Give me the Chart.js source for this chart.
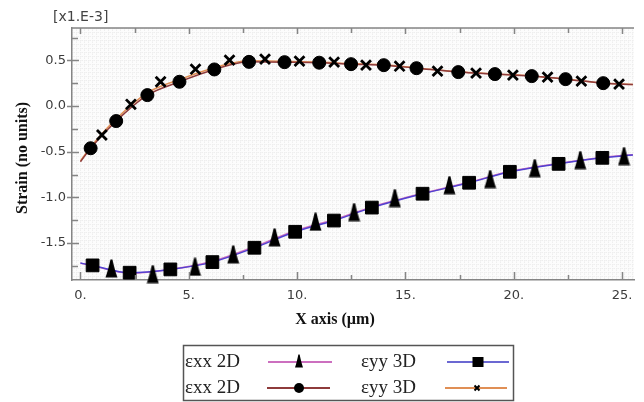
<!DOCTYPE html>
<html>
<head>
<meta charset="utf-8">
<title>Strain along X axis</title>
<script src="https://cdn.jsdelivr.net/npm/chart.js@4.4.1/dist/chart.umd.min.js"></script>
<style>
  html, body { margin: 0; padding: 0; background: #fff; }
  #wrap { width: 644px; height: 402px; }
</style>
</head>
<body>
<div id="wrap"><canvas id="strainChart" width="644" height="402"></canvas></div>
<script>
// x in µm, strain in units of 1.E-3
const xTicks = [0, 5, 10, 15, 20, 25];
const xMinor = [2.5, 7.5, 12.5, 17.5, 22.5];
const yTicks = [-1.5, -1.0, -0.5, 0.0, 0.5];
const yMinor = [-1.75, -1.25, -0.75, -0.25, 0.25, 0.75];

// curves
const upperLineX = [0, 0.47, 1.65, 3.09, 4.57, 6.18, 7.78, 9.42, 11.02, 12.49, 14.0, 15.51, 17.44, 19.13, 20.83, 22.39, 24.13, 25.5];
const exx2dRedY  = [-0.61, -0.462, -0.164, 0.12, 0.266, 0.401, 0.484, 0.481, 0.475, 0.459, 0.448, 0.415, 0.372, 0.35, 0.328, 0.295, 0.251, 0.235];
const eyy3dOrY   = [-0.60, -0.45, -0.14, 0.145, 0.29, 0.42, 0.495, 0.49, 0.482, 0.465, 0.452, 0.418, 0.375, 0.352, 0.33, 0.297, 0.253, 0.237];

const lowerLineX = [0, 0.56, 2.27, 4.15, 6.09, 8.03, 9.91, 11.70, 13.45, 15.79, 17.94, 19.82, 22.07, 24.09, 25.5];
const eyy3dBlueY = [-1.72, -1.745, -1.825, -1.789, -1.709, -1.552, -1.377, -1.254, -1.112, -0.96, -0.84, -0.72, -0.633, -0.567, -0.537];
const exx2dPinkY = [-1.72, -1.75, -1.83, -1.79, -1.70, -1.54, -1.365, -1.245, -1.105, -0.955, -0.835, -0.715, -0.628, -0.563, -0.533];

// markers
const circleX = [0.47, 1.65, 3.09, 4.57, 6.18, 7.78, 9.42, 11.02, 12.49, 14.0, 15.51, 17.44, 19.13, 20.83, 22.39, 24.13];
const circleY = [-0.462, -0.164, 0.12, 0.266, 0.401, 0.484, 0.481, 0.475, 0.459, 0.448, 0.415, 0.372, 0.35, 0.328, 0.295, 0.251];
const crossX = [0.99, 2.33, 3.70, 5.31, 6.88, 8.52, 10.11, 11.71, 13.18, 14.73, 16.48, 18.26, 19.96, 21.56, 23.12, 24.86];
const crossY = [-0.317, 0.019, 0.266, 0.404, 0.503, 0.514, 0.492, 0.481, 0.448, 0.437, 0.383, 0.361, 0.339, 0.317, 0.273, 0.240];
const squareX = [0.56, 2.27, 4.15, 6.09, 8.03, 9.91, 11.70, 13.45, 15.79, 17.94, 19.82, 22.07, 24.09];
const squareY = [-1.745, -1.825, -1.789, -1.709, -1.552, -1.377, -1.254, -1.112, -0.96, -0.84, -0.72, -0.633, -0.567];
const triX = [1.43, 3.34, 5.29, 7.05, 8.96, 10.85, 12.63, 14.51, 17.03, 18.91, 20.97, 23.07, 25.09];
const triY = [-1.778, -1.840, -1.760, -1.624, -1.438, -1.267, -1.161, -1.008, -0.866, -0.800, -0.680, -0.592, -0.548];

const colPink = '#cc6fbf';
const colBlue = '#5140d0';
const colRed = '#8e3b3b';
const colOrange = '#e08f55';

function pts(xs, ys) {
  return xs.map((x, i) => ({x: x, y: ys[i]}));
}

// tall "cone" triangle used by the εxx 2D markers
function triPath(ctx, cx, cy, w, h) {
  ctx.beginPath();
  ctx.moveTo(cx - w * 0.08, cy - h / 2);
  ctx.lineTo(cx + w * 0.08, cy - h / 2);
  ctx.quadraticCurveTo(cx + w * 0.3, cy + h * 0.15, cx + w / 2, cy + h / 2);
  ctx.lineTo(cx - w / 2, cy + h / 2);
  ctx.quadraticCurveTo(cx - w * 0.3, cy + h * 0.15, cx - w * 0.08, cy - h / 2);
  ctx.closePath();
}
const triImg = document.createElement('canvas');
triImg.width = 13;
triImg.height = 19;
(function () {
  const c = triImg.getContext('2d');
  c.fillStyle = '#000';
  triPath(c, 6.5, 9.5, 12, 18);
  c.fill();
})();

// faint dotted mesh behind the plot
const meshTile = document.createElement('canvas');
meshTile.width = 4;
meshTile.height = 4;
(function () {
  const c = meshTile.getContext('2d');
  c.fillStyle = '#fcfcfc';
  c.fillRect(0, 0, 4, 4);
  c.fillStyle = '#eeeeee';
  c.fillRect(0, 0, 1, 1);
  c.fillRect(2, 0, 1, 1);
  c.fillRect(0, 2, 1, 1);
  c.fillStyle = '#f4f4f4';
  c.fillRect(1, 0, 1, 1);
  c.fillRect(0, 1, 1, 1);
})();

const framePlugin = {
  id: 'frame',
  beforeDraw(chart) {
    const {ctx, chartArea: a} = chart;
    ctx.save();
    ctx.fillStyle = ctx.createPattern(meshTile, 'repeat');
    ctx.fillRect(a.left, a.top, a.right - a.left, a.bottom - a.top);
    ctx.restore();
  },
  afterDraw(chart) {
    const {ctx, chartArea: a} = chart;
    const xs = chart.scales.x, ys = chart.scales.y;
    ctx.save();
    ctx.strokeStyle = '#858585';
    ctx.lineWidth = 1.5;

    // top frame line
    ctx.beginPath();
    ctx.moveTo(a.left, a.top);
    ctx.lineTo(a.right, a.top);
    ctx.stroke();

    // inner ticks
    ctx.beginPath();
    xTicks.forEach(v => {
      const px = Math.round(xs.getPixelForValue(v)) + 0.5;
      ctx.moveTo(px, a.bottom); ctx.lineTo(px, a.bottom - 8);
      ctx.moveTo(px, a.top); ctx.lineTo(px, a.top + 6);
    });
    xMinor.forEach(v => {
      const px = Math.round(xs.getPixelForValue(v)) + 0.5;
      ctx.moveTo(px, a.bottom); ctx.lineTo(px, a.bottom - 5);
      ctx.moveTo(px, a.top); ctx.lineTo(px, a.top + 5);
    });
    yTicks.forEach(v => {
      const py = Math.round(ys.getPixelForValue(v)) + 0.5;
      ctx.moveTo(a.left - 5, py); ctx.lineTo(a.left + 7, py);
    });
    yMinor.forEach(v => {
      const py = Math.round(ys.getPixelForValue(v)) + 0.5;
      if (py > a.top + 2) { ctx.moveTo(a.left, py); ctx.lineTo(a.left + 6, py); }
    });
    ctx.stroke();

    // exponent note
    ctx.fillStyle = '#444';
    ctx.font = '14px "DejaVu Sans"';
    ctx.textBaseline = 'middle';
    ctx.textAlign = 'left';
    ctx.fillText('[x1.E-3]', 53, 17);

    // axis titles
    ctx.fillStyle = '#111';
    ctx.font = 'bold 16px "Liberation Serif"';
    ctx.textAlign = 'center';
    ctx.fillText('X axis (µm)', 335, 320);
    ctx.save();
    ctx.translate(23, 158);
    ctx.rotate(-Math.PI / 2);
    ctx.fillText('Strain (no units)', 0, 0);
    ctx.restore();

    // legend
    ctx.strokeStyle = '#555';
    ctx.lineWidth = 1.5;
    ctx.strokeRect(183.5, 345.5, 330, 55);
    ctx.font = '19px "Liberation Serif"';
    ctx.textAlign = 'left';
    const rows = [
      {t: 'εxx 2D', tx: 185, y: 362, c: colPink, x0: 268, x1: 332, m: 'tri', mx: 299},
      {t: 'εyy 3D', tx: 361, y: 362, c: '#6b68d2', x0: 447, x1: 509, m: 'sq', mx: 478},
      {t: 'εxx 2D', tx: 185, y: 388, c: colRed, x0: 267, x1: 330, m: 'dot', mx: 299},
      {t: 'εyy 3D', tx: 361, y: 388, c: colOrange, x0: 445, x1: 507, m: 'x', mx: 477}
    ];
    rows.forEach(r => {
      ctx.fillStyle = '#222';
      ctx.fillText(r.t, r.tx, r.y);
      ctx.strokeStyle = r.c;
      ctx.lineWidth = 2;
      ctx.beginPath();
      ctx.moveTo(r.x0, r.y);
      ctx.lineTo(r.x1, r.y);
      ctx.stroke();
      ctx.fillStyle = '#000';
      ctx.strokeStyle = '#000';
      if (r.m === 'tri') {
        triPath(ctx, r.mx, r.y - 1, 8, 13);
        ctx.fill();
      } else if (r.m === 'sq') {
        ctx.fillRect(r.mx - 5.5, r.y - 5, 11, 10);
      } else if (r.m === 'dot') {
        ctx.beginPath();
        ctx.arc(r.mx, r.y, 5, 0, Math.PI * 2);
        ctx.fill();
      } else {
        ctx.lineWidth = 2;
        ctx.beginPath();
        ctx.moveTo(r.mx - 2.5, r.y - 2.5); ctx.lineTo(r.mx + 2.5, r.y + 2.5);
        ctx.moveTo(r.mx + 2.5, r.y - 2.5); ctx.lineTo(r.mx - 2.5, r.y + 2.5);
        ctx.stroke();
      }
    });
    ctx.restore();
  }
};

function lineSet(label, data, color) {
  return {
    label: label, data: data, showLine: true, borderColor: color, borderWidth: 1.5,
    pointRadius: 0, cubicInterpolationMode: 'monotone', order: 2
  };
}
function markSet(label, data, style, radius, extra) {
  return Object.assign({
    label: label, data: data, showLine: false, pointStyle: style, pointRadius: radius,
    pointBackgroundColor: '#000', pointBorderColor: '#000', pointBorderWidth: 1,
    clip: false, order: 1
  }, extra || {});
}

Chart.defaults.font.family = '"DejaVu Sans"';
Chart.defaults.font.size = 13;
Chart.defaults.color = '#3c3c3c';

new Chart(document.getElementById('strainChart'), {
  type: 'scatter',
  data: {
    datasets: [
      // first dataset ends up on top, blue over pink like the original
      lineSet('εyy 3D', pts(lowerLineX, eyy3dBlueY), colBlue),
      lineSet('εxx 2D', pts(lowerLineX, exx2dPinkY), colPink),
      lineSet('εxx 2D', pts(upperLineX, exx2dRedY), colRed),
      lineSet('εyy 3D', pts(upperLineX, eyy3dOrY), colOrange),
      markSet('εxx 2D', pts(triX, triY), triImg, 7),
      markSet('εyy 3D', pts(squareX, squareY), 'rect', 9),
      markSet('εxx 2D', pts(circleX, circleY), 'circle', 6.5),
      markSet('εyy 3D', pts(crossX, crossY), 'crossRot', 7, {pointBorderWidth: 2.8})
    ]
  },
  options: {
    responsive: false,
    devicePixelRatio: 1,
    animation: false,
    layout: { padding: { left: 0, right: 6, top: 28, bottom: 0 } },
    plugins: { legend: { display: false }, tooltip: { enabled: false } },
    scales: {
      x: {
        type: 'linear', min: -0.39, max: 25.55,
        afterBuildTicks: s => { s.ticks = xTicks.map(v => ({value: v})); },
        afterFit: s => { s.height = 122; },
        grid: { display: false, drawTicks: false },
        border: { display: true, color: '#858585', width: 1.5 },
        ticks: { padding: 8, callback: v => v + '.' }
      },
      y: {
        type: 'linear', min: -1.905, max: 0.855,
        afterBuildTicks: s => { s.ticks = yTicks.map(v => ({value: v})); },
        afterFit: s => { s.width = 72; },
        grid: { display: false, drawTicks: false },
        border: { display: true, color: '#858585', width: 1.5 },
        ticks: { padding: 6, callback: v => v.toFixed(1) }
      }
    }
  },
  plugins: [framePlugin]
});
</script>
</body>
</html>
